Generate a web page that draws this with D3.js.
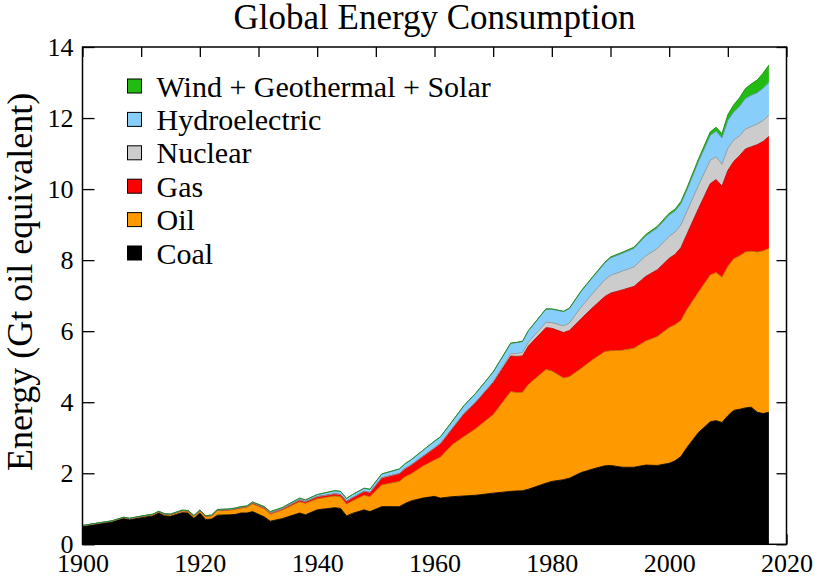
<!DOCTYPE html>
<html>
<head>
<meta charset="utf-8">
<script src="https://cdn.jsdelivr.net/npm/d3@7"></script>
<style>
  body { margin: 0; background: #fff; }
  svg text { font-family: "Liberation Serif", "Times New Roman", Times, "DejaVu Serif", serif; fill: #000; }
</style>
</head>
<body>
<div id="chart"></div>
<script>
// values, Gt oil equivalent per source
var years = [1900, 1903, 1905, 1907, 1908, 1910, 1912, 1913, 1914, 1915,
    1917, 1918, 1919, 1920, 1921, 1922, 1923, 1925, 1926, 1927,
    1928, 1929, 1931, 1932, 1934, 1937, 1938, 1940, 1943, 1944,
    1945, 1946, 1948, 1949, 1951, 1954, 1955, 1956, 1958, 1960,
    1961, 1963, 1965, 1967, 1970, 1973, 1974, 1975, 1976, 1979,
    1980, 1982, 1983, 1985, 1987, 1989, 1990, 1992, 1994, 1996,
    1998, 2000, 2001, 2002, 2003, 2005, 2007, 2008, 2009, 2010,
    2011, 2012, 2013, 2014, 2015, 2016, 2017];

var coal = [0.50, 0.58, 0.63, 0.73, 0.69, 0.75, 0.80, 0.88, 0.80, 0.79,
    0.89, 0.88, 0.73, 0.88, 0.70, 0.71, 0.82, 0.83, 0.84, 0.88,
    0.88, 0.92, 0.77, 0.65, 0.72, 0.88, 0.83, 0.97, 1.03, 1.01,
    0.80, 0.87, 0.97, 0.92, 1.06, 1.06, 1.15, 1.22, 1.30, 1.35,
    1.30, 1.34, 1.36, 1.38, 1.44, 1.49, 1.50, 1.51, 1.55, 1.72,
    1.77, 1.82, 1.86, 2.02, 2.12, 2.21, 2.22, 2.17, 2.17, 2.23,
    2.22, 2.28, 2.35, 2.47, 2.72, 3.15, 3.45, 3.48, 3.43, 3.62,
    3.77, 3.80, 3.84, 3.86, 3.72, 3.68, 3.72];

var oil = [0.02, 0.02, 0.02, 0.02, 0.03, 0.03, 0.03, 0.03, 0.04, 0.04,
    0.05, 0.05, 0.06, 0.06, 0.08, 0.09, 0.13, 0.13, 0.14, 0.14,
    0.16, 0.22, 0.23, 0.20, 0.24, 0.32, 0.32, 0.31, 0.33, 0.33,
    0.33, 0.35, 0.41, 0.42, 0.61, 0.71, 0.75, 0.76, 0.90, 1.02,
    1.15, 1.46, 1.67, 1.87, 2.21, 2.81, 2.77, 2.77, 2.95, 3.20,
    3.11, 2.86, 2.86, 2.93, 3.08, 3.21, 3.23, 3.29, 3.35, 3.49,
    3.63, 3.82, 3.83, 3.83, 3.88, 3.95, 4.13, 4.17, 4.09, 4.20,
    4.27, 4.32, 4.39, 4.39, 4.51, 4.58, 4.61];

var gas = [0.005, 0.005, 0.005, 0.005, 0.005, 0.005, 0.01, 0.01, 0.01, 0.01,
    0.01, 0.01, 0.01, 0.01, 0.01, 0.01, 0.01, 0.015, 0.02, 0.02,
    0.02, 0.03, 0.03, 0.03, 0.03, 0.05, 0.05, 0.06, 0.06, 0.06,
    0.08, 0.09, 0.11, 0.12, 0.20, 0.22, 0.23, 0.25, 0.27, 0.34,
    0.38, 0.45, 0.64, 0.74, 0.90, 1.00, 1.02, 1.02, 1.08, 1.18,
    1.20, 1.28, 1.30, 1.40, 1.47, 1.55, 1.62, 1.70, 1.74, 1.82,
    1.88, 1.95, 1.98, 2.05, 2.12, 2.35, 2.57, 2.62, 2.56, 2.70,
    2.74, 2.82, 2.90, 2.94, 3.02, 3.08, 3.15];

var nuclear = [0, 0, 0, 0, 0, 0, 0, 0, 0, 0,
    0, 0, 0, 0, 0, 0, 0, 0, 0, 0,
    0, 0, 0, 0, 0, 0, 0, 0, 0, 0,
    0, 0, 0, 0, 0, 0, 0, 0, 0.002, 0.005,
    0.005, 0.008, 0.01, 0.015, 0.03, 0.07, 0.08, 0.10, 0.11, 0.15,
    0.16, 0.19, 0.21, 0.33, 0.40, 0.47, 0.50, 0.53, 0.55, 0.58,
    0.60, 0.62, 0.63, 0.64, 0.64, 0.66, 0.66, 0.64, 0.62, 0.63,
    0.60, 0.56, 0.56, 0.57, 0.58, 0.59, 0.60];

var hydro = [0.005, 0.005, 0.005, 0.008, 0.008, 0.01, 0.01, 0.01, 0.01, 0.012,
    0.012, 0.012, 0.012, 0.015, 0.015, 0.015, 0.02, 0.02, 0.02, 0.02,
    0.02, 0.02, 0.03, 0.04, 0.04, 0.05, 0.05, 0.06, 0.09, 0.09,
    0.08, 0.09, 0.09, 0.09, 0.11, 0.13, 0.14, 0.15, 0.17, 0.19,
    0.19, 0.20, 0.22, 0.24, 0.27, 0.29, 0.31, 0.31, 0.32, 0.37,
    0.38, 0.40, 0.41, 0.44, 0.45, 0.47, 0.49, 0.50, 0.52, 0.56,
    0.58, 0.60, 0.59, 0.60, 0.60, 0.66, 0.70, 0.72, 0.74, 0.78,
    0.79, 0.83, 0.86, 0.88, 0.88, 0.91, 0.92];

var wind = [0, 0, 0, 0, 0, 0, 0, 0, 0, 0,
    0, 0, 0, 0, 0, 0, 0, 0, 0, 0,
    0, 0, 0, 0, 0, 0, 0, 0, 0, 0,
    0, 0, 0, 0, 0, 0, 0, 0, 0, 0,
    0, 0, 0.002, 0.003, 0.004, 0.005, 0.005, 0.006, 0.006, 0.008,
    0.008, 0.01, 0.01, 0.015, 0.02, 0.025, 0.03, 0.03, 0.035, 0.04,
    0.045, 0.05, 0.055, 0.06, 0.065, 0.08, 0.10, 0.11, 0.12, 0.16,
    0.20, 0.24, 0.28, 0.32, 0.36, 0.42, 0.49];

var seriesNames = ['Coal', 'Oil', 'Gas', 'Nuclear', 'Hydroelectric', 'Wind + Geothermal + Solar'];
var seriesColors = ['#000000', '#ff9900', '#ff0000', '#cccccc', '#87cefa', '#22bb11'];
var xTicks = [1900, 1910, 1920, 1930, 1940, 1950, 1960, 1970, 1980, 1990, 2000, 2010, 2020];
var yTicks = [0, 2, 4, 6, 8, 10, 12, 14];

(function () {

    var w = 820;
    var h = 577;
    var margin = { top: 47, right: 33.5, bottom: 32.7, left: 82.5 };
    var iw = w - margin.left - margin.right;
    var ih = h - margin.top - margin.bottom;
    var serif = '"Liberation Serif", "Times New Roman", Times, "DejaVu Serif", serif';

    var keys = ['coal', 'oil', 'gas', 'nuclear', 'hydro', 'wind'];
    var cols = [coal, oil, gas, nuclear, hydro, wind];
    var table = years.map(function (y, i) {
        var row = { year: y };
        keys.forEach(function (k, j) { row[k] = cols[j][i]; });
        return row;
    });

    var layers = d3.stack().keys(keys)(table);

    var x = d3.scaleLinear().domain([1900, 2020]).range([0, iw]);
    var y = d3.scaleLinear().domain([0, 14]).range([ih, 0]);

    var svg = d3.select('#chart')
        .append('svg')
            .attr('width', w)
            .attr('height', h)
            .attr('font-family', serif);

    var g = svg.append('g')
        .attr('transform', 'translate(' + margin.left + ',' + margin.top + ')');

    var area = d3.area()
        .x(function (d) { return x(d.data.year); })
        .y0(function (d) { return y(d[0]); })
        .y1(function (d) { return y(d[1]); });

    var topLine = d3.line()
        .x(function (d) { return x(d.data.year); })
        .y(function (d) { return y(d[1]); });

    g.selectAll('path.layer')
        .data(layers)
        .enter()
        .append('path')
            .attr('class', 'layer')
            .attr('d', area)
            .attr('fill', function (d, i) { return seriesColors[i]; });

    // thin darker edge on top of every band
    g.selectAll('path.edge')
        .data(layers)
        .enter()
        .append('path')
            .attr('class', 'edge')
            .attr('d', topLine)
            .attr('fill', 'none')
            .attr('stroke', function (d, i) { return d3.color(seriesColors[i]).darker(0.9); })
            .attr('stroke-width', 0.9);

    function tidy(sel) {
        sel.attr('font-family', serif).attr('font-size', 26);
        sel.select('.domain').remove();
        sel.selectAll('.tick line').attr('stroke', '#000').attr('stroke-width', 1.3);
        sel.selectAll('.tick text').attr('fill', '#000');
    }

    g.append('g')
        .call(d3.axisLeft(y).tickValues(yTicks).tickSize(-12).tickPadding(9).tickFormat(d3.format('d')))
        .call(tidy);

    g.append('g')
        .attr('transform', 'translate(' + iw + ',0)')
        .call(d3.axisRight(y).tickValues(yTicks).tickSize(-10).tickFormat(''))
        .call(tidy);

    g.append('g')
        .call(d3.axisTop(x).tickValues(xTicks).tickSize(-10).tickFormat(''))
        .call(tidy);

    g.append('g')
        .attr('transform', 'translate(0,' + ih + ')')
        .call(d3.axisBottom(x).tickValues(xTicks).tickSize(-10).tickPadding(9)
            .tickFormat(function (d) { return d % 20 === 0 ? d : ''; }))
        .call(tidy);

    g.append('rect')
        .attr('width', iw)
        .attr('height', ih)
        .attr('fill', 'none')
        .attr('stroke', '#000')
        .attr('stroke-width', 1.5);

    // legend, top entry first
    var legend = g.append('g')
        .attr('transform', 'translate(45,39)');

    var order = d3.range(seriesNames.length).reverse();
    var item = legend.selectAll('g')
        .data(order)
        .enter()
        .append('g')
            .attr('transform', function (d, i) { return 'translate(0,' + (i * 33.4) + ')'; });

    item.append('rect')
        .attr('x', 0)
        .attr('y', -7)
        .attr('width', 14)
        .attr('height', 14)
        .attr('fill', function (d) { return seriesColors[d]; })
        .attr('stroke', '#000')
        .attr('stroke-width', 1);

    item.append('text')
        .attr('x', 29)
        .attr('dy', '0.35em')
        .attr('font-size', 30)
        .text(function (d) { return seriesNames[d]; });

    svg.append('text')
        .attr('x', margin.left + iw / 2)
        .attr('y', 29)
        .attr('text-anchor', 'middle')
        .attr('font-size', 35)
        .text('Global Energy Consumption');

    svg.append('text')
        .attr('transform', 'translate(19.5,282) rotate(-90)')
        .attr('text-anchor', 'middle')
        .attr('dy', '0.35em')
        .attr('font-size', 36)
        .text('Energy (Gt oil equivalent)');

})();
</script>
</body>
</html>
